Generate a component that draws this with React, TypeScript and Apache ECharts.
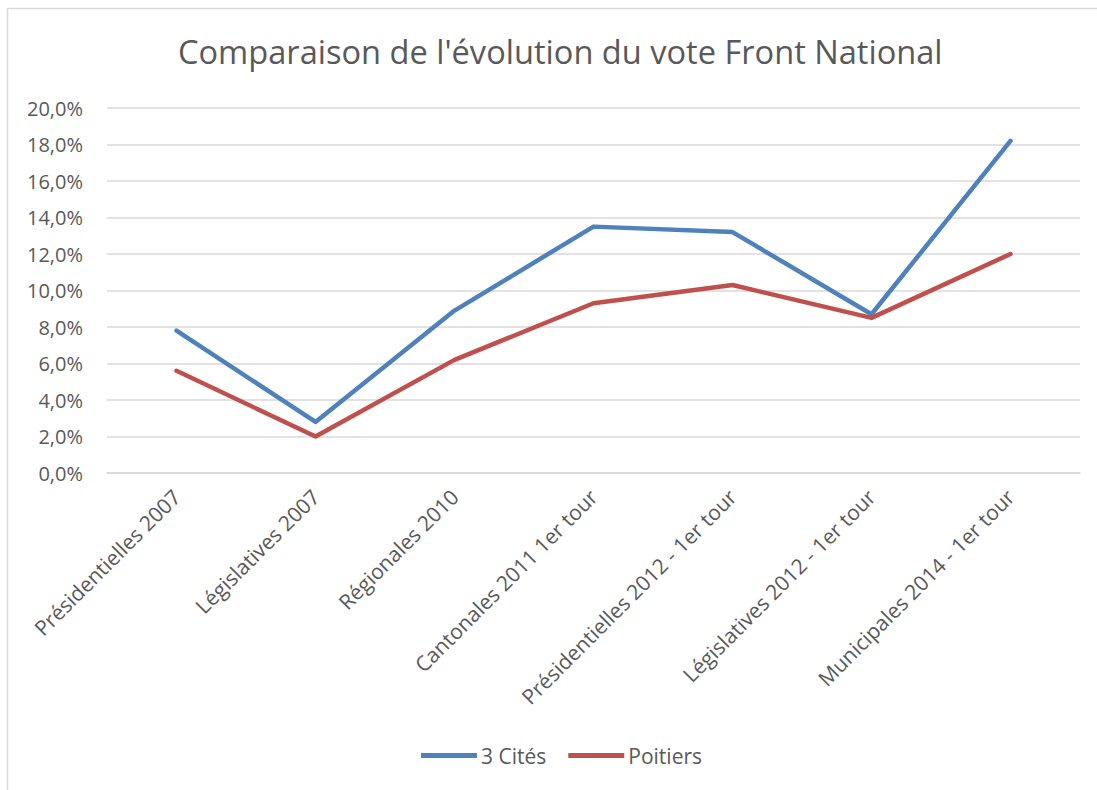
import React, { useEffect, useRef } from "react";
import * as echarts from "echarts";

const categories = [
  "Présidentielles 2007",
  "Législatives 2007",
  "Régionales 2010",
  "Cantonales 2011 1er tour",
  "Présidentielles 2012 - 1er tour",
  "Législatives 2012 - 1er tour",
  "Municipales 2014 - 1er tour",
];
const troisCites = [7.8, 2.8, 8.9, 13.5, 13.2, 8.7, 18.2];
const poitiers = [5.6, 2.0, 6.2, 9.3, 10.3, 8.5, 12.0];
const yMin = 0;
const yMax = 20;
const yStep = 2;

const FONT = "'Open Sans', 'Noto Sans', sans-serif";
const TEXT = "#595959";

export default function App() {
  const ref = useRef<HTMLDivElement>(null);
  useEffect(() => {
    if (!ref.current) return;
    const chart = echarts.init(ref.current, null, { renderer: "svg" });
    chart.setOption({
      animation: false,
      backgroundColor: "#ffffff",
      title: {
        text: "Comparaison de l'évolution du vote Front National",
        left: 173,
        top: 30,
        textStyle: { fontFamily: FONT, fontSize: 32.6, fontWeight: "normal", color: TEXT },
      },
      graphic: [
        {
          type: "rect",
          shape: { x: 7.5, y: 8.5, width: 1200, height: 1000 },
          style: { fill: "none", stroke: "#d9d9d9", lineWidth: 1.5 },
          silent: true,
        },
      ],
      legend: {
        bottom: 19,
        left: 416,
        icon: "rect",
        itemWidth: 56,
        itemHeight: 5,
        itemGap: 22,
        textStyle: { fontFamily: FONT, fontSize: 21, color: TEXT, padding: [0, 0, 0, -1] },
        data: ["3 Cités", "Poitiers"],
      },
      grid: { left: 107, right: 17, top: 108, bottom: 317, containLabel: false },
      xAxis: {
        type: "category",
        data: categories,
        boundaryGap: true,
        axisLine: { show: true, lineStyle: { color: "#d9d9d9", width: 1.5 } },
        axisTick: { show: false },
        axisLabel: {
          rotate: 45,
          interval: 0,
          margin: 20,
          fontFamily: FONT,
          fontSize: 21,
          color: TEXT,
        },
      },
      yAxis: {
        type: "value",
        min: yMin,
        max: yMax,
        interval: yStep,
        axisLine: { show: false },
        axisTick: { show: false },
        splitLine: { lineStyle: { color: "#d9d9d9", width: 1.5 } },
        axisLabel: {
          margin: 24,
          fontFamily: FONT,
          fontSize: 20,
          color: TEXT,
          formatter: (v: number) => v.toFixed(1).replace(".", ",") + "%",
        },
      },
      series: [
        {
          name: "3 Cités",
          type: "line",
          data: troisCites,
          showSymbol: false,
          symbol: "none",
          color: "#4f81bd",
          lineStyle: { width: 4.5, color: "#4f81bd", cap: "round", join: "round" },
        },
        {
          name: "Poitiers",
          type: "line",
          data: poitiers,
          showSymbol: false,
          symbol: "none",
          color: "#c0504d",
          lineStyle: { width: 4.5, color: "#c0504d", cap: "round", join: "round" },
        },
      ],
    });
    return () => chart.dispose();
  }, []);
  return (
    <div
      ref={ref}
      style={{ position: "fixed", left: 0, top: 0, width: 1097, height: 790 }}
    />
  );
}
